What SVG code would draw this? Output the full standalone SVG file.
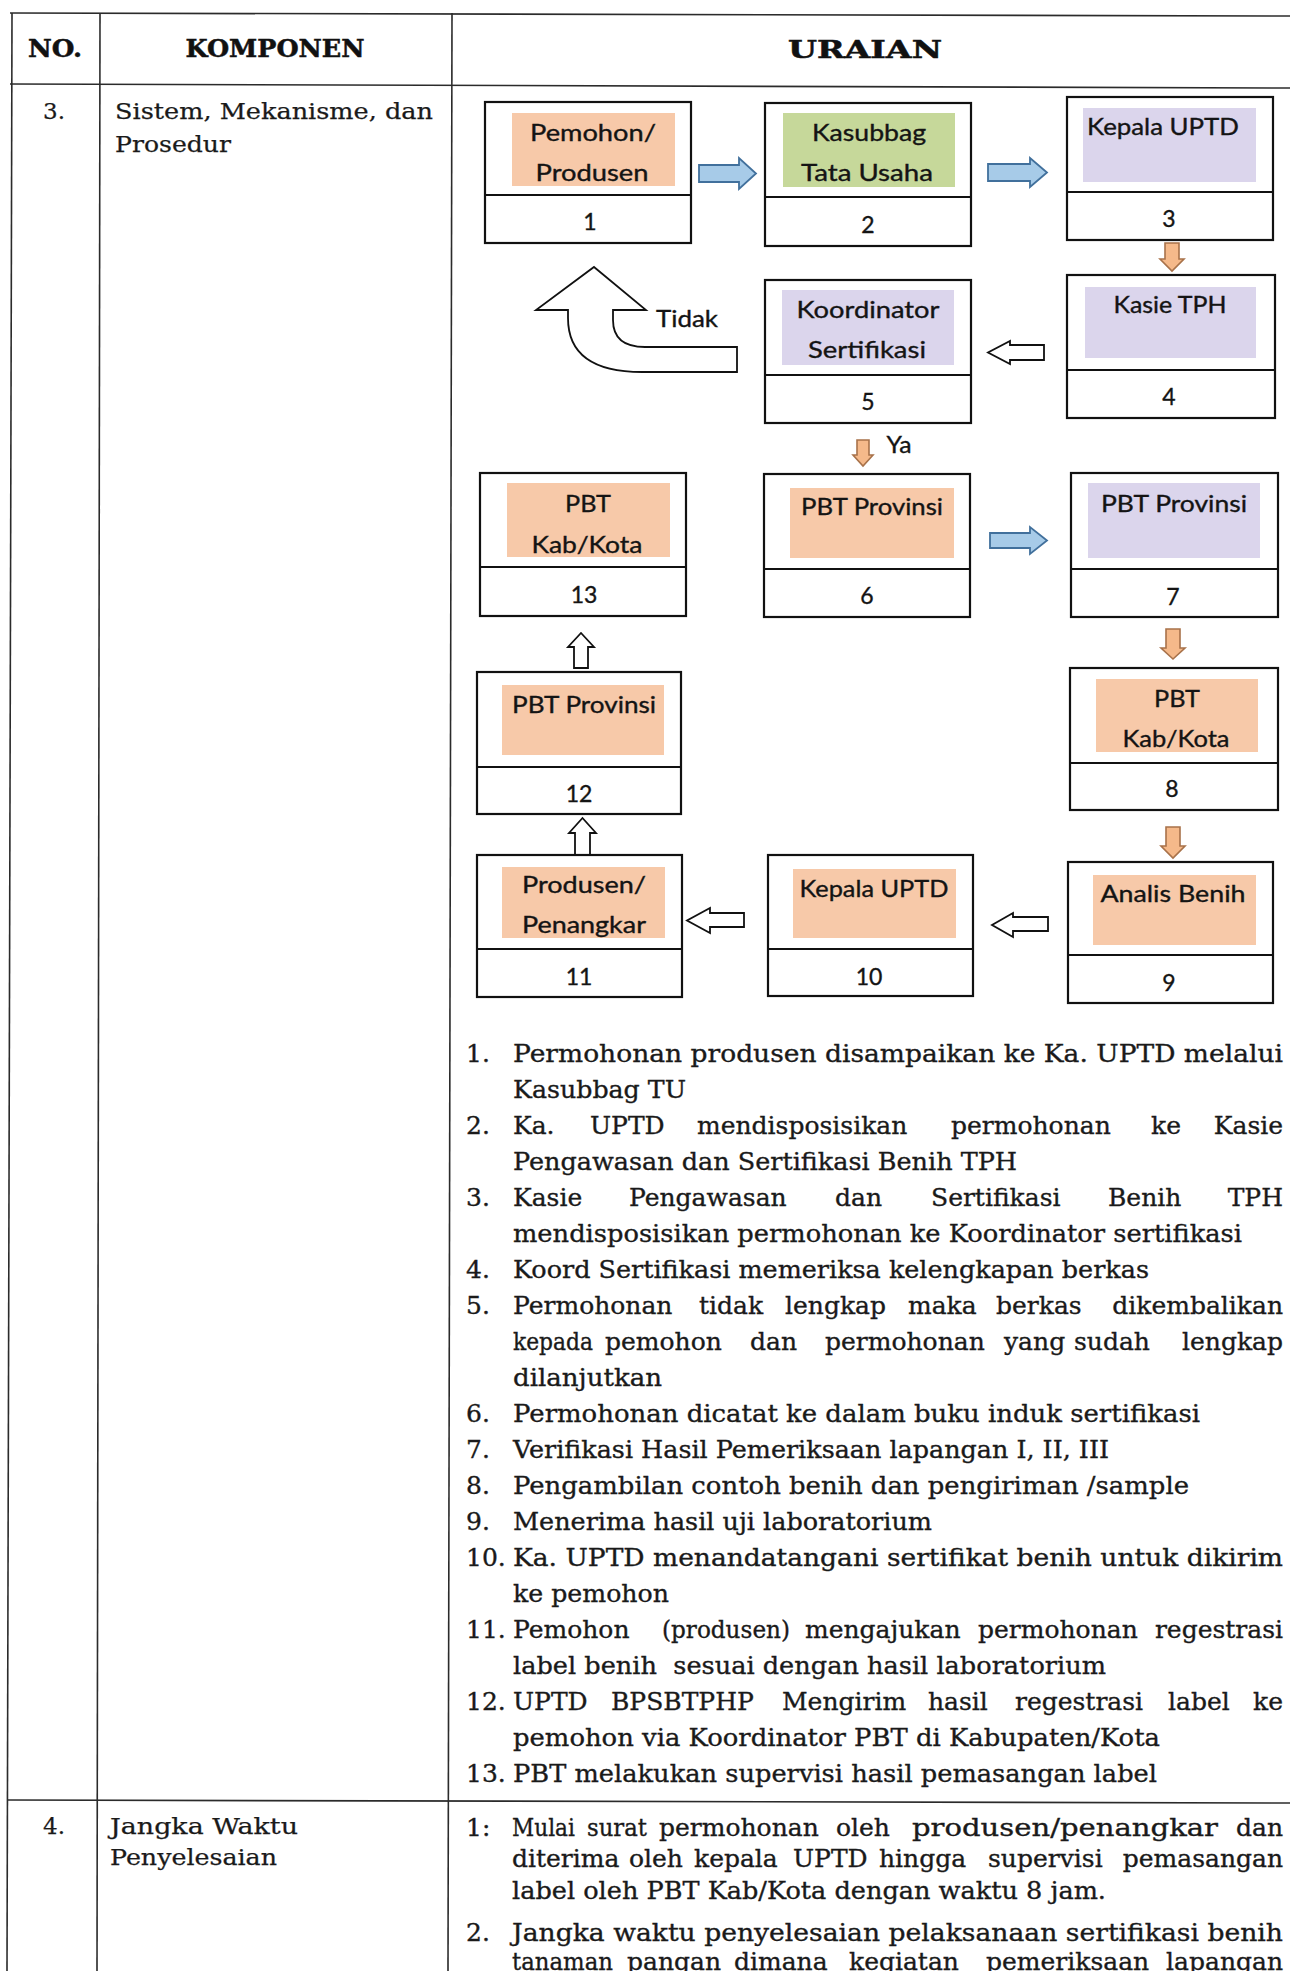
<svg xmlns="http://www.w3.org/2000/svg" width="1290" height="1971" viewBox="0 0 1290 1971">
<style>
.tbl{stroke:#2b2b2b;stroke-width:1.6;fill:none}
.box{fill:#fff;stroke:#111;stroke-width:2.2}
.div{stroke:#111;stroke-width:2.2}
.fo{fill:#F7C9A9}.fg{fill:#C6D89A}.fl{fill:#DBD5EC}
.lbl{font-family:Lato,"Open Sans",sans-serif;font-size:23px;fill:#141414;stroke:#141414;stroke-width:0.35;text-anchor:middle}
.arB{fill:#A7CBE8;stroke:#41709C;stroke-width:1.8}
.arO{fill:#F5B98A;stroke:#A8724A;stroke-width:1.6}
.arW{fill:#fff;stroke:#111;stroke-width:1.8}
.hdr{font-family:"DejaVu Serif",serif;font-weight:bold;font-size:24px;fill:#111;stroke:#111;stroke-width:0.5;text-anchor:middle}
.cell{font-family:"DejaVu Serif",serif;font-size:23px;fill:#1a1a1a;stroke:#1a1a1a;stroke-width:0.25}
.body{font-family:"DejaVu Serif",serif;font-size:25px;fill:#1a1a1a;stroke:#1a1a1a;stroke-width:0.35}
.end{text-anchor:end}
</style>
<rect width="1290" height="1971" fill="#fff"/>
<g id="table">
<line class="tbl" x1="10" y1="13" x2="1290" y2="16"/>
<line class="tbl" x1="10" y1="84" x2="1290" y2="88"/>
<line class="tbl" x1="8" y1="1800" x2="1290" y2="1803"/>
<line class="tbl" x1="12" y1="13" x2="7" y2="1971"/>
<line class="tbl" x1="100" y1="13" x2="97" y2="1971"/>
<line class="tbl" x1="452" y1="13" x2="448" y2="1971"/>
<text class="hdr" x="55" y="57" textLength="54" lengthAdjust="spacingAndGlyphs">NO.</text>
<text class="hdr" x="275" y="57" textLength="179" lengthAdjust="spacingAndGlyphs">KOMPONEN</text>
<text class="hdr" x="865" y="58" textLength="154" lengthAdjust="spacingAndGlyphs">URAIAN</text>
<text class="cell" x="54" y="119" text-anchor="middle">3.</text>
<text class="cell" x="115" y="119" textLength="318" lengthAdjust="spacingAndGlyphs">Sistem, Mekanisme, dan</text>
<text class="cell" x="115" y="152" textLength="116" lengthAdjust="spacingAndGlyphs">Prosedur</text>
<text class="cell" x="54" y="1834" text-anchor="middle">4.</text>
<text class="cell" x="110" y="1834" textLength="188" lengthAdjust="spacingAndGlyphs">Jangka Waktu</text>
<text class="cell" x="110" y="1865" textLength="167" lengthAdjust="spacingAndGlyphs">Penyelesaian</text>
</g>
<g id="connectors">
<path class="arB" d="M699,165 L739,165 L739,158 L756,173.5 L739,189 L739,182 L699,182 Z"/>
<path class="arB" d="M988,164 L1030,164 L1030,158 L1047,172.5 L1030,187 L1030,181 L988,181 Z"/>
<path class="arO" d="M1165,243 L1179,243 L1179,259 L1184,259 L1172,271 L1160,259 L1165,259 Z"/>
<path class="arW" d="M1044,345 L1010,345 L1010,341 L988,352.5 L1010,364 L1010,360 L1044,360 Z"/>
<path class="arW" d="M594,267 L646,310 L613,310 L613,320 Q613,347 645,347 L737,347 L737,372 L642,372 Q568,372 568,318 L568,310 L536,310 Z"/>
<text class="lbl" x="687" y="327" textLength="62" lengthAdjust="spacingAndGlyphs">Tidak</text>
<path class="arO" d="M857,440 L869,440 L869,455 L873,455 L863,466 L853,455 L857,455 Z"/>
<text class="lbl" x="899" y="453" textLength="25" lengthAdjust="spacingAndGlyphs">Ya</text>
<path class="arB" d="M990,533 L1030,533 L1030,527 L1047,540.5 L1030,554 L1030,548 L990,548 Z"/>
<path class="arO" d="M1166,629 L1180,629 L1180,648 L1185,648 L1173,659 L1161,648 L1166,648 Z"/>
<path class="arO" d="M1166,827 L1180,827 L1180,846 L1185,846 L1173,858 L1161,846 L1166,846 Z"/>
<path class="arW" d="M1048,917 L1013,917 L1013,913 L992,925 L1013,937 L1013,931 L1048,931 Z"/>
<path class="arW" d="M744,913 L710,913 L710,908 L687,920.5 L710,933 L710,927 L744,927 Z"/>
<path class="arW" d="M575,855 L590,855 L590,833 L596,833 L582.5,818 L569,833 L575,833 Z"/>
<path class="arW" d="M574,668 L588,668 L588,647 L594,647 L581,633 L568,647 L574,647 Z"/>
</g>
<g id="node1">
<rect class="box" x="485" y="102" width="206" height="141"/><line class="div" x1="485" y1="195" x2="691" y2="195"/>
<rect class="fo" x="512" y="113" width="163" height="73"/>
<text class="lbl" x="593" y="141" textLength="126" lengthAdjust="spacingAndGlyphs">Pemohon/</text>
<text class="lbl" x="592" y="181" textLength="113" lengthAdjust="spacingAndGlyphs">Produsen</text>
<text class="lbl" x="590" y="230">1</text>
</g>
<g id="node2">
<rect class="box" x="765" y="103" width="206" height="143"/><line class="div" x1="765" y1="197" x2="971" y2="197"/>
<rect class="fg" x="783" y="113" width="172" height="74"/>
<text class="lbl" x="869" y="141" textLength="114" lengthAdjust="spacingAndGlyphs">Kasubbag</text>
<text class="lbl" x="867" y="181" textLength="132" lengthAdjust="spacingAndGlyphs">Tata Usaha</text>
<text class="lbl" x="868" y="233">2</text>
</g>
<g id="node3">
<rect class="box" x="1067" y="97" width="206" height="143"/><line class="div" x1="1067" y1="192" x2="1273" y2="192"/>
<rect class="fl" x="1083" y="108" width="173" height="74"/>
<text class="lbl" x="1163" y="135" textLength="152" lengthAdjust="spacingAndGlyphs">Kepala UPTD</text>
<text class="lbl" x="1169" y="227">3</text>
</g>
<g id="node4">
<rect class="box" x="1067" y="275" width="208" height="143"/><line class="div" x1="1067" y1="370" x2="1275" y2="370"/>
<rect class="fl" x="1085" y="287" width="171" height="71"/>
<text class="lbl" x="1170" y="313" textLength="113" lengthAdjust="spacingAndGlyphs">Kasie TPH</text>
<text class="lbl" x="1169" y="405">4</text>
</g>
<g id="node5">
<rect class="box" x="765" y="280" width="206" height="143"/><line class="div" x1="765" y1="375" x2="971" y2="375"/>
<rect class="fl" x="782" y="290" width="172" height="75"/>
<text class="lbl" x="868" y="318" textLength="143" lengthAdjust="spacingAndGlyphs">Koordinator</text>
<text class="lbl" x="867" y="358" textLength="118" lengthAdjust="spacingAndGlyphs">Sertifikasi</text>
<text class="lbl" x="868" y="410">5</text>
</g>
<g id="node6">
<rect class="box" x="764" y="474" width="206" height="143"/><line class="div" x1="764" y1="569" x2="970" y2="569"/>
<rect class="fo" x="790" y="488" width="164" height="70"/>
<text class="lbl" x="872" y="515" textLength="142" lengthAdjust="spacingAndGlyphs">PBT Provinsi</text>
<text class="lbl" x="867" y="604">6</text>
</g>
<g id="node7">
<rect class="box" x="1071" y="473" width="207" height="144"/><line class="div" x1="1071" y1="569" x2="1278" y2="569"/>
<rect class="fl" x="1088" y="483" width="172" height="75"/>
<text class="lbl" x="1174" y="512" textLength="146" lengthAdjust="spacingAndGlyphs">PBT Provinsi</text>
<text class="lbl" x="1173" y="605">7</text>
</g>
<g id="node8">
<rect class="box" x="1070" y="668" width="208" height="142"/><line class="div" x1="1070" y1="763" x2="1278" y2="763"/>
<rect class="fo" x="1096" y="679" width="162" height="73"/>
<text class="lbl" x="1177" y="707" textLength="46" lengthAdjust="spacingAndGlyphs">PBT</text>
<text class="lbl" x="1176" y="747" textLength="107" lengthAdjust="spacingAndGlyphs">Kab/Kota</text>
<text class="lbl" x="1172" y="797">8</text>
</g>
<g id="node9">
<rect class="box" x="1068" y="862" width="205" height="141"/><line class="div" x1="1068" y1="955" x2="1273" y2="955"/>
<rect class="fo" x="1093" y="875" width="163" height="70"/>
<text class="lbl" x="1173" y="902" textLength="145" lengthAdjust="spacingAndGlyphs">Analis Benih</text>
<text class="lbl" x="1169" y="991">9</text>
</g>
<g id="node10">
<rect class="box" x="768" y="855" width="205" height="141"/><line class="div" x1="768" y1="949" x2="973" y2="949"/>
<rect class="fo" x="793" y="869" width="163" height="69"/>
<text class="lbl" x="874" y="897" textLength="149" lengthAdjust="spacingAndGlyphs">Kepala UPTD</text>
<text class="lbl" x="869" y="985">10</text>
</g>
<g id="node11">
<rect class="box" x="477" y="855" width="205" height="142"/><line class="div" x1="477" y1="949" x2="682" y2="949"/>
<rect class="fo" x="502" y="867" width="163" height="71"/>
<text class="lbl" x="584" y="893" textLength="124" lengthAdjust="spacingAndGlyphs">Produsen/</text>
<text class="lbl" x="584" y="933" textLength="124" lengthAdjust="spacingAndGlyphs">Penangkar</text>
<text class="lbl" x="579" y="985">11</text>
</g>
<g id="node12">
<rect class="box" x="477" y="672" width="204" height="142"/><line class="div" x1="477" y1="767" x2="681" y2="767"/>
<rect class="fo" x="502" y="685" width="162" height="70"/>
<text class="lbl" x="584" y="713" textLength="144" lengthAdjust="spacingAndGlyphs">PBT Provinsi</text>
<text class="lbl" x="579" y="802">12</text>
</g>
<g id="node13">
<rect class="box" x="480" y="473" width="206" height="143"/><line class="div" x1="480" y1="567" x2="686" y2="567"/>
<rect class="fo" x="507" y="483" width="163" height="74"/>
<text class="lbl" x="588" y="512" textLength="46" lengthAdjust="spacingAndGlyphs">PBT</text>
<text class="lbl" x="587" y="553" textLength="111" lengthAdjust="spacingAndGlyphs">Kab/Kota</text>
<text class="lbl" x="584" y="603">13</text>
</g>
<g id="list">
<text class="body" x="466" y="1062">1.</text>
<text class="body" x="513" y="1062" textLength="770" lengthAdjust="spacingAndGlyphs">Permohonan produsen disampaikan ke Ka. UPTD melalui</text>
<text class="body" x="513" y="1098" textLength="173" lengthAdjust="spacingAndGlyphs">Kasubbag TU</text>
<text class="body" x="466" y="1134">2.</text>
<text class="body" y="1134"><tspan x="513">Ka.</tspan><tspan x="590">UPTD</tspan><tspan x="697">mendisposisikan</tspan><tspan x="951">permohonan</tspan><tspan x="1151">ke</tspan></text>
<text class="body end" x="1283" y="1134">Kasie</text>
<text class="body" x="513" y="1170" textLength="504" lengthAdjust="spacingAndGlyphs">Pengawasan dan Sertifikasi Benih TPH</text>
<text class="body" x="466" y="1206">3.</text>
<text class="body" y="1206"><tspan x="513">Kasie</tspan><tspan x="629">Pengawasan</tspan><tspan x="835">dan</tspan><tspan x="931">Sertifikasi</tspan><tspan x="1108">Benih</tspan></text>
<text class="body end" x="1283" y="1206">TPH</text>
<text class="body" x="513" y="1242" textLength="729" lengthAdjust="spacingAndGlyphs">mendisposisikan permohonan ke Koordinator sertifikasi</text>
<text class="body" x="466" y="1278">4.</text>
<text class="body" x="513" y="1278" textLength="636" lengthAdjust="spacingAndGlyphs">Koord Sertifikasi memeriksa kelengkapan berkas</text>
<text class="body" x="466" y="1314">5.</text>
<text class="body" y="1314"><tspan x="513">Permohonan</tspan><tspan x="699">tidak</tspan><tspan x="785">lengkap</tspan><tspan x="908">maka</tspan><tspan x="996">berkas</tspan></text>
<text class="body end" x="1283" y="1314">dikembalikan</text>
<text class="body" y="1350"><tspan x="513" textLength="80" lengthAdjust="spacingAndGlyphs">kepada</tspan><tspan x="605">pemohon</tspan><tspan x="750">dan</tspan><tspan x="825">permohonan</tspan><tspan x="1004">yang</tspan><tspan x="1074">sudah</tspan></text>
<text class="body end" x="1283" y="1350">lengkap</text>
<text class="body" x="513" y="1386" textLength="149" lengthAdjust="spacingAndGlyphs">dilanjutkan</text>
<text class="body" x="466" y="1422">6.</text>
<text class="body" x="513" y="1422" textLength="687" lengthAdjust="spacingAndGlyphs">Permohonan dicatat ke dalam buku induk sertifikasi</text>
<text class="body" x="466" y="1458">7.</text>
<text class="body" x="513" y="1458" textLength="596" lengthAdjust="spacingAndGlyphs">Verifikasi Hasil Pemeriksaan lapangan I, II, III</text>
<text class="body" x="466" y="1494">8.</text>
<text class="body" x="513" y="1494" textLength="676" lengthAdjust="spacingAndGlyphs">Pengambilan contoh benih dan pengiriman /sample</text>
<text class="body" x="466" y="1530">9.</text>
<text class="body" x="513" y="1530" textLength="419" lengthAdjust="spacingAndGlyphs">Menerima hasil uji laboratorium</text>
<text class="body" x="466" y="1566">10.</text>
<text class="body" x="513" y="1566" textLength="770" lengthAdjust="spacingAndGlyphs">Ka. UPTD menandatangani sertifikat benih untuk dikirim</text>
<text class="body" x="513" y="1602" textLength="156" lengthAdjust="spacingAndGlyphs">ke pemohon</text>
<text class="body" x="466" y="1638">11.</text>
<text class="body" y="1638"><tspan x="513">Pemohon</tspan><tspan x="662" textLength="128" lengthAdjust="spacingAndGlyphs">(produsen)</tspan><tspan x="805">mengajukan</tspan><tspan x="978">permohonan</tspan></text>
<text class="body end" x="1283" y="1638">regestrasi</text>
<text class="body" x="513" y="1674" textLength="593" lengthAdjust="spacingAndGlyphs">label benih &#160;sesuai dengan hasil laboratorium</text>
<text class="body" x="466" y="1710">12.</text>
<text class="body" y="1710"><tspan x="513">UPTD</tspan><tspan x="611">BPSBTPHP</tspan><tspan x="782">Mengirim</tspan><tspan x="928">hasil</tspan><tspan x="1015">regestrasi</tspan><tspan x="1168">label</tspan></text>
<text class="body end" x="1283" y="1710">ke</text>
<text class="body" x="513" y="1746" textLength="647" lengthAdjust="spacingAndGlyphs">pemohon via Koordinator PBT di Kabupaten/Kota</text>
<text class="body" x="466" y="1782">13.</text>
<text class="body" x="513" y="1782" textLength="644" lengthAdjust="spacingAndGlyphs">PBT melakukan supervisi hasil pemasangan label</text>
</g>
<g id="list2">
<text class="body" x="466" y="1836">1:</text>
<text class="body" y="1836"><tspan x="512" textLength="63" lengthAdjust="spacingAndGlyphs">Mulai</tspan><tspan x="587" textLength="60" lengthAdjust="spacingAndGlyphs">surat</tspan><tspan x="659">permohonan</tspan><tspan x="836">oleh</tspan><tspan x="912" textLength="306" lengthAdjust="spacingAndGlyphs">produsen/penangkar</tspan></text>
<text class="body end" x="1283" y="1836">dan</text>
<text class="body" y="1867"><tspan x="512">diterima</tspan><tspan x="629">oleh</tspan><tspan x="694">kepala</tspan><tspan x="793">UPTD</tspan><tspan x="879">hingga</tspan><tspan x="988">supervisi</tspan></text>
<text class="body end" x="1283" y="1867">pemasangan</text>
<text class="body" x="512" y="1899" textLength="594" lengthAdjust="spacingAndGlyphs">label oleh PBT Kab/Kota dengan waktu 8 jam.</text>
<text class="body" x="466" y="1941">2.</text>
<text class="body" x="512" y="1941" textLength="771" lengthAdjust="spacingAndGlyphs">Jangka waktu penyelesaian pelaksanaan sertifikasi benih</text>
<text class="body" y="1970"><tspan x="512" textLength="101" lengthAdjust="spacingAndGlyphs">tanaman</tspan><tspan x="627">pangan</tspan><tspan x="734">dimana</tspan><tspan x="849">kegiatan</tspan><tspan x="986">pemeriksaan</tspan></text>
<text class="body end" x="1283" y="1970">lapangan</text>
</g>
</svg>
